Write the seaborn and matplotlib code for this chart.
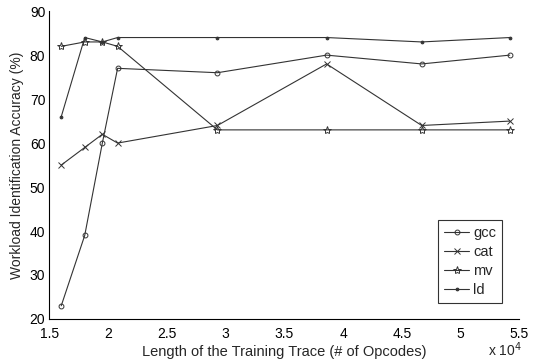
import matplotlib
matplotlib.use("Agg")
import matplotlib.pyplot as plt
import seaborn as sns
from matplotlib.ticker import FuncFormatter

# trace lengths (# of opcodes)
trace_len = [16000, 18000, 19500, 20800, 29300, 38600, 46700, 54200]

gcc = [23, 39, 60, 77, 76, 80, 78, 80]
cat = [55, 59, 62, 60, 64, 78, 64, 65]
mv = [82, 83, 83, 82, 63, 63, 63, 63]
ld = [66, 84, 83, 84, 84, 84, 83, 84]

workloads = ["gcc", "cat", "mv", "ld"]
series = [gcc, cat, mv, ld]
markers = ["o", "x", "*", "."]
msizes = [3.5, 5, 6, 4]
faces = ["none", "none", "none", "#333333"]

sns.set_style("white")
plt.rcParams["font.family"] = ["Liberation Sans", "DejaVu Sans"]

fig = plt.figure(figsize=(5.38, 3.6), dpi=100)
ax = fig.add_axes([0.092, 0.114, 0.873, 0.855])

for name, vals, m, ms, fc in zip(workloads, series, markers, msizes, faces):
    sns.lineplot(x=trace_len, y=vals, color="#333333", marker=m,
                 markersize=ms, markerfacecolor=fc, markeredgecolor="#333333",
                 markeredgewidth=0.7, linewidth=0.8, label=name, ax=ax)

ax.set_xlim(15000, 55000)
ax.set_ylim(20, 90)
ax.set_xticks([15000, 20000, 25000, 30000, 35000, 40000, 45000, 50000, 55000])
ax.set_yticks(range(20, 91, 10))
ax.xaxis.set_major_formatter(FuncFormatter(lambda v, p: "%g" % (v / 1e4)))
ax.tick_params(direction="in", length=3.6, width=0.8, labelsize=10, colors="black")
ax.tick_params(axis="x", pad=6)
ax.tick_params(axis="y", pad=3)

ax.set_xlabel("Length of the Training Trace (# of Opcodes)", fontsize=10.5,
              labelpad=3)
ax.set_ylabel("Workload Identification Accuracy (%)", fontsize=10)

sns.despine(ax=ax)
for s in ["left", "bottom"]:
    ax.spines[s].set_color("black")
    ax.spines[s].set_linewidth(0.8)

leg = ax.legend(loc="lower right", bbox_to_anchor=(0.964, 0.052),
                borderaxespad=0, frameon=True, fancybox=False,
                edgecolor="black", fontsize=10.5, numpoints=1,
                handlelength=1.7, handletextpad=0.3, labelspacing=0.35,
                borderpad=0.4)
leg.get_frame().set_linewidth(0.8)

fig.text(0.907, 0.012, "x 10$^4$", fontsize=10, va="baseline")

fig.savefig("out.png", dpi=100)
